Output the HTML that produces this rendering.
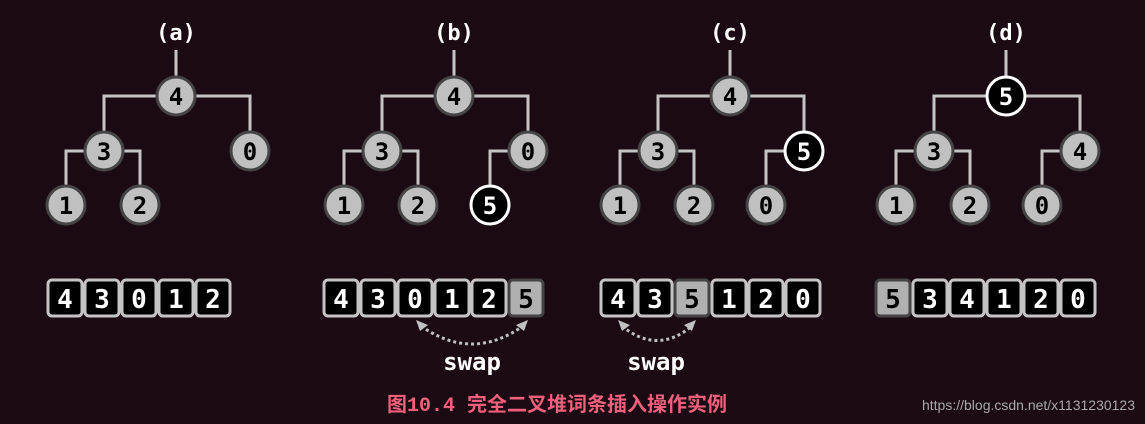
<!DOCTYPE html>
<html><head><meta charset="utf-8"><style>
html,body{margin:0;padding:0;background:#1b0a13;}
svg{display:block}
.m{font-family:"DejaVu Sans Mono","Liberation Mono",monospace;font-weight:bold;}
</style></head><body>
<svg width="1145" height="424" viewBox="0 0 1145 424" xmlns="http://www.w3.org/2000/svg">
<rect width="1145" height="424" fill="#1b0a13"/>
<defs>
<g id="edges" stroke="#c4c4c4" stroke-width="3" fill="none">
<path d="M0 50V80"/>
<path d="M-72 151V96H74V151"/>
<path d="M-110 205V151H-36V205"/>
</g>
</defs>
<g class="m" font-size="24" text-anchor="middle">
<!-- tree a -->
<g transform="translate(176,0)">
<use href="#edges"/>
<text x="0" y="40" fill="#fff" font-size="22">(a)</text>
<circle cx="0" cy="96" r="19" fill="#c0c0c0" stroke="#444" stroke-width="3"/><text x="0" y="105">4</text>
<circle cx="-72" cy="151" r="19" fill="#c0c0c0" stroke="#444" stroke-width="3"/><text x="-72" y="160">3</text>
<circle cx="74" cy="151" r="19" fill="#c0c0c0" stroke="#444" stroke-width="3"/><text x="74" y="160">0</text>
<circle cx="-110" cy="205" r="19" fill="#c0c0c0" stroke="#444" stroke-width="3"/><text x="-110" y="214">1</text>
<circle cx="-36" cy="205" r="19" fill="#c0c0c0" stroke="#444" stroke-width="3"/><text x="-36" y="214">2</text>
</g>
<!-- tree b -->
<g transform="translate(454,0)">
<use href="#edges"/>
<path d="M74 151H36V205" stroke="#c4c4c4" stroke-width="3" fill="none"/>
<text x="0" y="40" fill="#fff" font-size="22">(b)</text>
<circle cx="0" cy="96" r="19" fill="#c0c0c0" stroke="#444" stroke-width="3"/><text x="0" y="105">4</text>
<circle cx="-72" cy="151" r="19" fill="#c0c0c0" stroke="#444" stroke-width="3"/><text x="-72" y="160">3</text>
<circle cx="74" cy="151" r="19" fill="#c0c0c0" stroke="#444" stroke-width="3"/><text x="74" y="160">0</text>
<circle cx="-110" cy="205" r="19" fill="#c0c0c0" stroke="#444" stroke-width="3"/><text x="-110" y="214">1</text>
<circle cx="-36" cy="205" r="19" fill="#c0c0c0" stroke="#444" stroke-width="3"/><text x="-36" y="214">2</text>
<circle cx="36" cy="205" r="19" fill="#000" stroke="#fff" stroke-width="3"/><text x="36" y="214" fill="#fff">5</text>
</g>
<!-- tree c -->
<g transform="translate(730,0)">
<use href="#edges"/>
<path d="M74 151H36V205" stroke="#c4c4c4" stroke-width="3" fill="none"/>
<text x="0" y="40" fill="#fff" font-size="22">(c)</text>
<circle cx="0" cy="96" r="19" fill="#c0c0c0" stroke="#444" stroke-width="3"/><text x="0" y="105">4</text>
<circle cx="-72" cy="151" r="19" fill="#c0c0c0" stroke="#444" stroke-width="3"/><text x="-72" y="160">3</text>
<circle cx="74" cy="151" r="19" fill="#000" stroke="#fff" stroke-width="3"/><text x="74" y="160" fill="#fff">5</text>
<circle cx="-110" cy="205" r="19" fill="#c0c0c0" stroke="#444" stroke-width="3"/><text x="-110" y="214">1</text>
<circle cx="-36" cy="205" r="19" fill="#c0c0c0" stroke="#444" stroke-width="3"/><text x="-36" y="214">2</text>
<circle cx="36" cy="205" r="19" fill="#c0c0c0" stroke="#444" stroke-width="3"/><text x="36" y="214">0</text>
</g>
<!-- tree d -->
<g transform="translate(1006,0)">
<use href="#edges"/>
<path d="M74 151H36V205" stroke="#c4c4c4" stroke-width="3" fill="none"/>
<text x="0" y="40" fill="#fff" font-size="22">(d)</text>
<circle cx="0" cy="96" r="19" fill="#000" stroke="#fff" stroke-width="3"/><text x="0" y="105" fill="#fff">5</text>
<circle cx="-72" cy="151" r="19" fill="#c0c0c0" stroke="#444" stroke-width="3"/><text x="-72" y="160">3</text>
<circle cx="74" cy="151" r="19" fill="#c0c0c0" stroke="#444" stroke-width="3"/><text x="74" y="160">4</text>
<circle cx="-110" cy="205" r="19" fill="#c0c0c0" stroke="#444" stroke-width="3"/><text x="-110" y="214">1</text>
<circle cx="-36" cy="205" r="19" fill="#c0c0c0" stroke="#444" stroke-width="3"/><text x="-36" y="214">2</text>
<circle cx="36" cy="205" r="19" fill="#c0c0c0" stroke="#444" stroke-width="3"/><text x="36" y="214">0</text>
</g>

<!-- arrays -->
<g font-size="26">
<g stroke="#c4c4c4" stroke-width="3" fill="#000">
<rect x="48" y="280" width="34" height="36" rx="4"/><rect x="85" y="280" width="34" height="36" rx="4"/><rect x="122" y="280" width="34" height="36" rx="4"/><rect x="159" y="280" width="34" height="36" rx="4"/><rect x="196" y="280" width="34" height="36" rx="4"/>
</g>
<g fill="#fff"><text x="65" y="308">4</text><text x="102" y="308">3</text><text x="139" y="308">0</text><text x="176" y="308">1</text><text x="213" y="308">2</text></g>
<g stroke="#c4c4c4" stroke-width="3" fill="#000">
<rect x="324" y="280" width="34" height="36" rx="4"/><rect x="361" y="280" width="34" height="36" rx="4"/><rect x="398" y="280" width="34" height="36" rx="4"/><rect x="435" y="280" width="34" height="36" rx="4"/><rect x="472" y="280" width="34" height="36" rx="4"/>
</g>
<rect x="509" y="280" width="34" height="36" rx="4" fill="#b0b0b0" stroke="#444" stroke-width="3"/>
<g fill="#fff"><text x="341" y="308">4</text><text x="378" y="308">3</text><text x="415" y="308">0</text><text x="452" y="308">1</text><text x="489" y="308">2</text></g>
<text x="526" y="308" fill="#000">5</text>
<g stroke="#c4c4c4" stroke-width="3" fill="#000">
<rect x="601" y="280" width="34" height="36" rx="4"/><rect x="638" y="280" width="34" height="36" rx="4"/><rect x="712" y="280" width="34" height="36" rx="4"/><rect x="749" y="280" width="34" height="36" rx="4"/><rect x="786" y="280" width="34" height="36" rx="4"/>
</g>
<rect x="675" y="280" width="34" height="36" rx="4" fill="#b0b0b0" stroke="#444" stroke-width="3"/>
<g fill="#fff"><text x="618" y="308">4</text><text x="655" y="308">3</text><text x="729" y="308">1</text><text x="766" y="308">2</text><text x="803" y="308">0</text></g>
<text x="692" y="308" fill="#000">5</text>
<g stroke="#c4c4c4" stroke-width="3" fill="#000">
<rect x="913" y="280" width="34" height="36" rx="4"/><rect x="950" y="280" width="34" height="36" rx="4"/><rect x="987" y="280" width="34" height="36" rx="4"/><rect x="1024" y="280" width="34" height="36" rx="4"/><rect x="1061" y="280" width="34" height="36" rx="4"/>
</g>
<rect x="876" y="280" width="34" height="36" rx="4" fill="#b0b0b0" stroke="#444" stroke-width="3"/>
<text x="893" y="308" fill="#000">5</text>
<g fill="#fff"><text x="930" y="308">3</text><text x="967" y="308">4</text><text x="1004" y="308">1</text><text x="1041" y="308">2</text><text x="1078" y="308">0</text></g>
</g>

<g stroke="#c0c0c0" stroke-width="3" fill="none" stroke-dasharray="3 3">
<path d="M421 326Q472 362 523 326"/>
<path d="M622 326Q657 355 692 326"/>
</g>
<g fill="#c0c0c0">
<polygon points="416,320 428,325 420,331"/>
<polygon points="528,320 516,325 524,331"/>
<polygon points="618,320 630,325 622,331"/>
<polygon points="696,320 684,325 692,331"/>
</g>
<g fill="#fff" font-size="24" font-weight="bold">
<text x="472" y="370">swap</text>
<text x="656" y="370">swap</text>
</g>
</g>
<text x="557" y="411" text-anchor="middle" fill="#f0607c" font-size="20" font-weight="bold" font-family="'Liberation Mono','Noto Sans CJK SC',monospace">图10.4 完全二叉堆词条插入操作实例</text>
<text x="1135" y="410" text-anchor="end" fill="#a8a8a8" font-size="14" font-family="'Liberation Sans',sans-serif">https://blog.csdn.net/x1131230123</text>
</svg>
</body></html>
